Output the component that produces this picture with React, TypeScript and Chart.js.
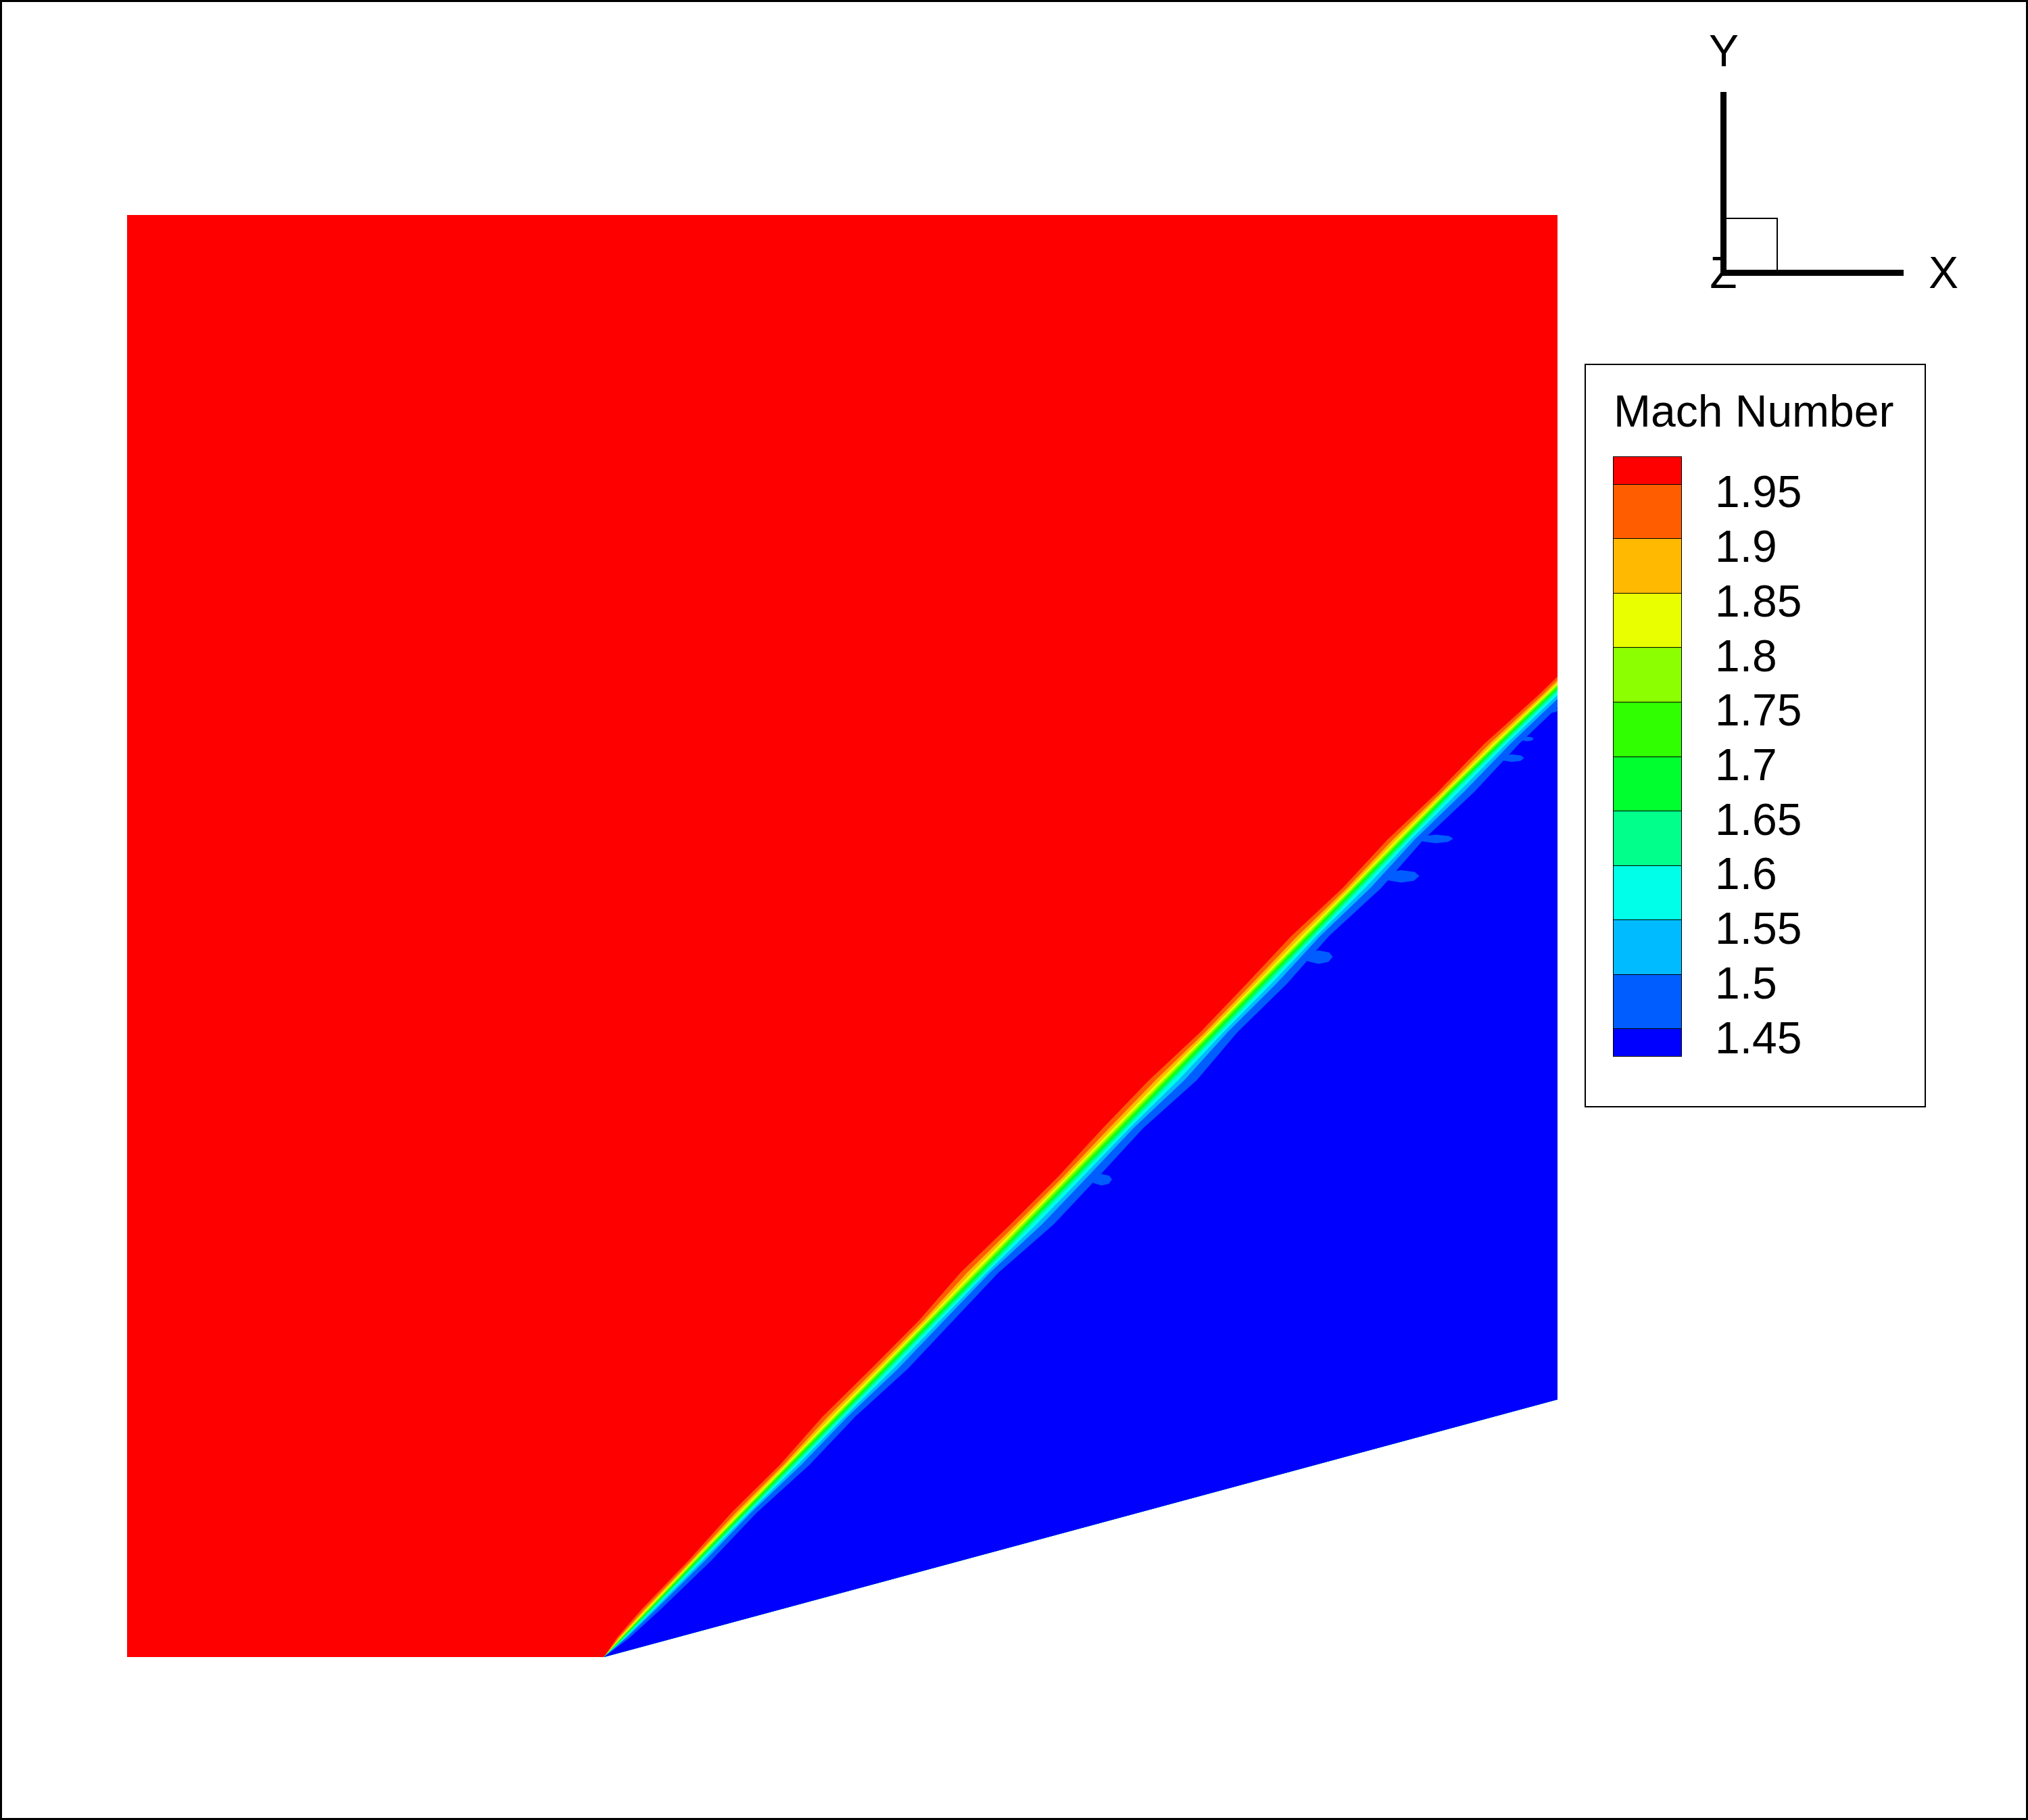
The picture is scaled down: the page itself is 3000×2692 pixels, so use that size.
import React, { useEffect, useRef } from "react";
import { Chart, registerables } from "chart.js";

Chart.register(...registerables);

const FONT = '"Liberation Sans", Arial, Helvetica, sans-serif';

// ---------------- data (physical units) ----------------
// flow domain: free stream over a 15 degree wedge starting at x = 0.5
const domainX = [0, 0.5, 1.5, 1.5, 0];
const domainY = [0, 0, 0.268, 1.5, 1.5];
const leadingEdgeX = 0.5;
const wedgeTan = 0.268;

const freeStreamColor = "#ff0000"; // Mach > 1.95
const contourLevels = [1.95, 1.9, 1.85, 1.8, 1.75, 1.7, 1.65, 1.6, 1.55, 1.5, 1.45];
// colour of the band just below each level
const levelColors = [
  "#ff5d00", "#ffb900", "#e9ff00", "#8cff00", "#2fff00", "#00ff2e",
  "#00ff8b", "#00ffe8", "#00bbff", "#005dff", "#0000ff",
];
// horizontal position of each contour line relative to the shock centre (fully developed shock)
const levelOffsets = [-0.0168, -0.0114, -0.008, -0.0056, -0.0031, -0.0008, 0.0016, 0.0046, 0.0076, 0.0114, 0.021];
const upJagWeight = [1, 0.6, 0.3, 0, 0, 0, 0, 0, 0, 0, 0];
const downJagWeight = [0, 0, 0, 0, 0, 0, 0, 0, 0.3, 0.6, 1];

// shock stations read along the oblique shock
const stationY = [0, 0.02, 0.05, 0.1, 0.15, 0.2, 0.25, 0.3, 0.35, 0.4, 0.45, 0.5, 0.55, 0.6, 0.65, 0.7, 0.75, 0.8, 0.85, 0.9, 0.95, 1.0, 1.05];
const shockX = [0.5, 0.5196, 0.5489, 0.5977, 0.647, 0.6965, 0.746, 0.7955, 0.845, 0.8945, 0.944, 0.9935, 1.0428, 1.0921, 1.1414, 1.1907, 1.24, 1.2893, 1.3386, 1.388, 1.4395, 1.492, 1.544];
const bandScale = [0, 0.35, 0.45, 0.55, 0.62, 0.7, 0.76, 0.82, 0.87, 0.92, 0.96, 1.0, 1.0, 0.98, 0.95, 0.92, 0.9, 0.87, 0.84, 0.8, 0.78, 0.75, 0.75];
const upJag = [0, 0, -0.0015, 0, -0.003, 0, -0.004, -0.0015, 0, -0.005, -0.0015, 0, -0.003, -0.004, 0, -0.0015, -0.004, 0, -0.003, 0, -0.003, 0, 0];
const downJag = [0, 0, 0.0015, 0.003, 0, 0.0045, 0.0015, 0.006, 0.003, 0, 0.0075, 0.0045, 0.0015, 0.009, 0.003, 0.006, 0.0015, 0.0075, 0.003, 0.008, 0.004, 0.005, 0.005];

// small 1.45-1.5 patches behind the shock
const blobX = [1.4953, 1.452, 1.468, 1.3726, 1.3361, 1.2493, 1.0218];
const blobY = [0.985, 0.935, 0.955, 0.851, 0.812, 0.728, 0.4965];
const blobRx = [0.005, 0.013, 0.007, 0.018, 0.019, 0.015, 0.011];
const blobRy = [0.0025, 0.004, 0.0025, 0.0045, 0.0065, 0.007, 0.006];
const blobShape = [[-1, 0], [-0.7, 0.65], [0, 1], [0.75, 0.7], [1, 0.05], [0.7, -0.7], [0, -1], [-0.75, -0.6]];

const legendTitle = "Mach Number";
const legendColors = [freeStreamColor, ...levelColors];

// ---------------- datasets ----------------
function buildDatasets() {
  const sets: any[] = [];
  const common = {
    showLine: true,
    pointRadius: 0,
    pointHoverRadius: 0,
    borderWidth: 0,
    tension: 0,
    fill: "shape",
  };
  sets.push({
    ...common,
    data: domainX.map((x, i) => ({ x, y: domainY[i] })),
    backgroundColor: freeStreamColor,
  });
  const farX = 1.6;
  const lastY = stationY[stationY.length - 1];
  contourLevels.forEach((_lvl, k) => {
    const pts: { x: number; y: number }[] = [];
    pts.push({ x: farX, y: wedgeTan * (farX - leadingEdgeX) });
    pts.push({ x: leadingEdgeX, y: 0 });
    stationY.forEach((y, i) => {
      pts.push({
        x: shockX[i] + levelOffsets[k] * bandScale[i] + upJagWeight[k] * upJag[i] + downJagWeight[k] * downJag[i],
        y,
      });
    });
    pts.push({ x: farX, y: lastY });
    sets.push({ ...common, data: pts, backgroundColor: levelColors[k] });
  });
  blobX.forEach((cx, b) => {
    sets.push({
      ...common,
      data: blobShape.map(([u, v]) => ({ x: cx + u * blobRx[b], y: blobY[b] + v * blobRy[b] })),
      backgroundColor: levelColors[9],
    });
  });
  sets.forEach((s, i) => (s.order = -i));
  return sets;
}

// ---------------- component ----------------
export default function App() {
  const ref = useRef<HTMLCanvasElement>(null);

  useEffect(() => {
    const canvas = ref.current;
    if (!canvas) return;
    const chart = new Chart(canvas, {
      type: "line",
      data: { datasets: buildDatasets() },
      options: {
        responsive: false,
        animation: false,
        devicePixelRatio: 1,
        events: [],
        layout: { padding: { left: 188, top: 318, right: 696, bottom: 241 } },
        scales: {
          x: { type: "linear", min: 0, max: 1.5, display: false },
          y: { type: "linear", min: 0, max: 1.5, display: false },
        },
        plugins: {
          legend: { display: false },
          tooltip: { enabled: false },
          title: { display: false },
        },
      } as any,
    });
    return () => chart.destroy();
  }, []);

  const barTop = 675;
  const barHeight = 888;
  const bandH = barHeight / 11;
  const textStyle: React.CSSProperties = {
    position: "absolute",
    fontFamily: FONT,
    fontSize: 66,
    lineHeight: "66px",
    height: 66,
    color: "#000",
    whiteSpace: "nowrap",
  };

  return (
    <div
      style={{
        position: "fixed",
        left: 0,
        top: 0,
        width: 3000,
        height: 2692,
        background: "#fff",
        overflow: "hidden",
      }}
    >
      <canvas
        ref={ref}
        width={3000}
        height={2692}
        style={{ position: "absolute", left: 0, top: 0, width: 3000, height: 2692 }}
      />

      {/* legend */}
      <div
        style={{
          position: "absolute",
          left: 2344,
          top: 538,
          width: 505,
          height: 1100,
          border: "2px solid #000",
          boxSizing: "border-box",
          background: "#fff",
        }}
      />
      <div style={{ ...textStyle, left: 2387, top: 575 }}>{legendTitle}</div>
      <div
        style={{
          position: "absolute",
          left: 2386,
          top: barTop,
          width: 102,
          height: barHeight,
          border: "1px solid #000",
          boxSizing: "border-box",
          display: "flex",
          flexDirection: "column",
        }}
      >
        {legendColors.map((c, i) => (
          <div
            key={i}
            style={{
              flex: i === 0 || i === legendColors.length - 1 ? "0.5 0 0" : "1 0 0",
              background: c,
              borderBottom: i === legendColors.length - 1 ? "none" : "1px solid #000",
              boxSizing: "border-box",
            }}
          />
        ))}
      </div>
      {contourLevels.map((lvl, i) => (
        <div key={lvl} style={{ ...textStyle, left: 2537, top: barTop + bandH / 2 + bandH * i + 12 - 33 }}>
          {String(lvl)}
        </div>
      ))}

      {/* axis triad */}
      <div style={{ ...textStyle, left: 2499.5, width: 100, textAlign: "center", top: 369.5 }}>Z</div>
      <div
        style={{
          position: "absolute",
          left: 2548,
          top: 322,
          width: 82,
          height: 82,
          border: "2px solid #000",
          boxSizing: "border-box",
          background: "#fff",
        }}
      />
      <div style={{ position: "absolute", left: 2545, top: 136, width: 9, height: 272, background: "#000" }} />
      <div style={{ position: "absolute", left: 2545, top: 399, width: 271, height: 9, background: "#000" }} />
      <div style={{ ...textStyle, left: 2500, width: 100, textAlign: "center", top: 41.5 }}>Y</div>
      <div style={{ ...textStyle, left: 2825, width: 100, textAlign: "center", top: 369.5 }}>X</div>

      {/* frame */}
      <div
        style={{
          position: "absolute",
          left: 0,
          top: 0,
          width: 3000,
          height: 2692,
          border: "3px solid #000",
          boxSizing: "border-box",
          pointerEvents: "none",
        }}
      />
    </div>
  );
}
